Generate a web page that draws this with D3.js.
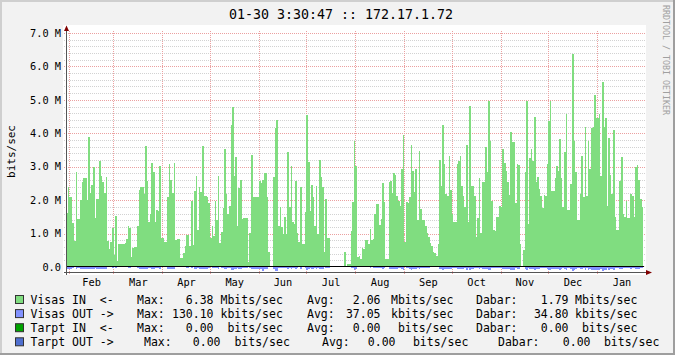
<!DOCTYPE html>
<html>
<head>
<meta charset="utf-8">
<script src="https://cdn.jsdelivr.net/npm/d3@7"></script>
<style>
  html, body { margin: 0; padding: 0; background: #f2f2f2; }
  svg { display: block; font-family: "DejaVu Sans Mono", monospace; }
</style>
</head>
<body>
<div id="chart"></div>
<script>
// daily averages, Visas IN (Mbit/s), one value per day starting 01-30
const visasIn = [
  1.63, 2.4, 2.08, 2.08, 1.33, 0.78, 2.85, 1.45, 1.45, 2.0,
  2.55, 2.65, 2.65, 2.0, 3.88, 2.2, 2.46, 3.0, 1.48, 2.03,
  2.03, 3.18, 2.72, 2.53, 2.2, 2.68, 0.78, 0.53, 0.76, 1.18,
  0.35, 1.53, 0.18, 0.68, 0.7, 0.7, 0.7, 0.73, 0.83, 1.23,
  1.18, 0.3, 0.56, 0.6, 0.6, 1.23, 2.3, 2.4, 2.4, 2.18,
  3.63, 2.58, 1.36, 1.6, 3.1, 2.83, 1.36, 1.7, 1.68, 3.03,
  0.88, 0.88, 0.76, 0.76, 2.08, 3.08, 2.6, 2.2, 3.1, 0.8,
  0.83, 0.84, 0.26, 0.26, 0.43, 0.63, 0.96, 0.96, 0.63, 1.96,
  0.66, 2.28, 2.73, 1.1, 2.38, 2.25, 3.62, 2.13, 2.13, 2.08,
  1.9, 0.88, 1.23, 0.93, 1.98, 1.4, 2.73, 0.73, 1.05, 1.75,
  3.52, 2.18, 1.58, 1.81, 4.25, 4.78, 2.71, 3.28, 1.23, 2.35,
  2.61, 1.43, 1.48, 1.48, 1.48, 0.16, 1.03, 3.36, 2.1, 2.08,
  2.08, 2.08, 2.58, 2.5, 2.6, 2.8, 2.8, 2.08, 0.46, 0,
  0, 2.68, 4.15, 4.4, 1.23, 1.8, 1.2, 0.98, 1.5, 0.98,
  3.45, 1.8, 3.03, 1.36, 1.28, 2.58, 1.03, 0.76, 2.38, 0.7,
  0.7, 1.65, 4.56, 3.13, 1.68, 2.45, 2.1, 1.23, 2.43, 1.0,
  3.21, 2.68, 2.38, 0.46, 2.03, 0.86, 0.86, 0, 0, 0,
  0, 0, 0.03, 0, 0, 0, 0.46, 0, 0.08, 0.08,
  1.08, 1.95, 3.78, 3.03, 0.3, 0.33, 0.23, 0.58, 0.55, 0.8,
  0.8, 0.68, 1.13, 0.8, 0.83, 1.6, 1.88, 1.88, 1.26, 1.43,
  2.5, 1.95, 0.23, 0.23, 2.55, 2.58, 2.21, 2.81, 2.76, 2.13,
  1.96, 1.81, 2.93, 3.96, 0.76, 1.93, 1.91, 2.1, 3.66, 2.86,
  2.23, 2.93, 1.41, 3.46, 1.73, 1.41, 1.4, 1.23, 1.03, 0.9,
  0.73, 0.63, 0.46, 0.43, 0.33, 0.68, 3.2, 2.43, 4.26, 3.08,
  2.18, 2.13, 3.33, 2.31, 1.6, 1.36, 1.36, 3.08, 3.18, 3.33,
  2.41, 2.13, 1.8, 3.66, 1.36, 4.83, 2.43, 2.43, 2.11, 0.9,
  1.48, 2.65, 1.01, 2.53, 2.53, 3.58, 2.85, 4.98, 3.78, 1.98,
  1.1, 1.08, 1.51, 1.51, 1.83, 1.8, 3.53, 3.1, 2.88, 2.53,
  2.16, 4.03, 3.73, 3.73, 1.9, 3.08, 3.06, 0.68, 0.03, 0.5,
  2.83, 4.98, 1.28, 3.25, 3.53, 3.18, 4.5, 2.55, 2.68, 2.33,
  2.13, 1.75, 2.15, 2.13, 3.08, 4.38, 4.98, 2.28, 2.28, 2.65,
  3.03, 2.88, 3.83, 2.65, 1.8, 3.45, 4.58, 1.71, 1.71, 2.48,
  6.38, 3.78, 2.85, 1.41, 1.41, 2.18, 3.33, 2.08, 4.2, 2.13,
  3.78, 2.93, 4.15, 4.2, 5.15, 4.46, 4.46, 4.58, 2.71, 5.52,
  4.2, 4.46, 1.81, 3.85, 2.76, 2.18, 4.11, 1.5, 1.1, 1.1,
  2.58, 3.3, 1.58, 1.5, 1.98, 1.48, 1.48, 2.18, 2.11, 1.51,
  3.0, 3.06, 2.61, 2.03, 1.78
];

// Visas OUT (kbit/s), drawn below zero
const visasOut = [
  48, 55, 52, 50, 30, 12, 58, 35, 33, 50,
  55, 57, 56, 48, 70, 52, 54, 62, 34, 49,
  47, 66, 58, 55, 50, 60, 10, 6, 8, 20,
  5, 28, 3, 8, 9, 9, 10, 9, 12, 22,
  20, 4, 7, 8, 8, 24, 52, 55, 54, 50,
  72, 56, 28, 36, 64, 58, 30, 38, 36, 62,
  14, 14, 12, 12, 48, 64, 56, 50, 66, 13,
  14, 14, 4, 4, 6, 10, 18, 18, 10, 44,
  11, 50, 58, 22, 52, 50, 74, 48, 47, 46,
  42, 15, 24, 17, 45, 30, 58, 12, 20, 40,
  72, 48, 35, 40, 88, 96, 58, 68, 24, 52,
  56, 30, 32, 32, 32, 3, 20, 70, 46, 46,
  46, 46, 56, 56, 130.1, 60, 60, 46, 8, 0,
  0, 58, 118, 124, 24, 40, 24, 19, 33, 19,
  72, 40, 64, 29, 27, 56, 20, 12, 52, 11,
  11, 36, 94, 66, 36, 53, 46, 24, 53, 19,
  67, 57, 52, 8, 45, 16, 16, 0, 0, 0,
  0, 0, 1, 0, 0, 0, 8, 0, 2, 2,
  21, 43, 78, 64, 5, 6, 4, 10, 10, 15,
  15, 12, 22, 15, 16, 35, 41, 41, 26, 30,
  54, 43, 4, 4, 55, 56, 48, 60, 59, 46,
  43, 40, 62, 82, 13, 42, 41, 46, 76, 60,
  48, 62, 30, 72, 38, 30, 30, 26, 21, 17,
  13, 11, 8, 8, 6, 12, 67, 52, 88, 64,
  47, 46, 69, 50, 34, 29, 29, 64, 66, 69,
  52, 46, 38, 76, 29, 100, 52, 52, 45, 18,
  31, 56, 21, 54, 54, 74, 60, 102, 78, 42,
  23, 22, 32, 32, 39, 38, 73, 64, 60, 53,
  46, 83, 77, 77, 40, 64, 63, 13, 1, 9,
  59, 102, 27, 67, 73, 66, 93, 54, 56, 49,
  45, 37, 45, 45, 64, 90, 102, 48, 48, 55,
  63, 60, 79, 55, 38, 71, 94, 36, 36, 52,
  128, 78, 59, 30, 30, 46, 69, 44, 86, 45,
  78, 61, 85, 86, 105, 92, 92, 94, 56, 112,
  86, 92, 38, 79, 57, 46, 84, 32, 23, 23,
  54, 68, 33, 32, 42, 31, 31, 46, 44, 32,
  62, 63, 54, 43, 34.8
];

const yTicks = [0, 1, 2, 3, 4, 5, 6, 7];
const yTickLabels = ["0.0", "1.0 M", "2.0 M", "3.0 M", "4.0 M", "5.0 M", "6.0 M", "7.0 M"];
const monthLabels = ["Feb", "Mar", "Apr", "May", "Jun", "Jul", "Aug", "Sep", "Oct", "Nov", "Dec", "Jan"];

const legendNames = ["Visas IN  <-", "Visas OUT ->", "Tarpt IN  <-", "Tarpt OUT ->"];
const legendColors = ["#80dd80", "#8292ff", "#00a300", "#4f6fcf"];
const maxValues = ["6.38", "130.10", "0.00", "0.00"];
const maxUnits = ["Mbits/sec", "kbits/sec", " bits/sec", " bits/sec"];
const avgValues = ["2.06", "37.05", "0.00", "0.00"];
const avgUnits = ["Mbits/sec", "kbits/sec", " bits/sec", " bits/sec"];
const curValues = ["1.79", "34.80", "0.00", "0.00"];
const curUnits = ["Mbits/sec", "kbits/sec", " bits/sec", " bits/sec"];

const title = "01-30 3:30:47 :: 172.17.1.72";

const W = 675, H = 355;
const start = new Date(Date.UTC(2010, 0, 30, 3, 30, 47));
const end = d3.utcDay.offset(start, visasIn.length);

const x = d3.scaleUtc().domain([start, end]).range([66.1, 643.1]);
const y = d3.scaleLinear().domain([-0.15, 7]).range([272, 33]);

// keep runs of spaces visible in svg text
const nb = s => s.replace(/ /g, "\u00a0");

const svg = d3.select("#chart").append("svg")
    .attr("width", W)
    .attr("height", H);

// background with the 3d border
svg.append("rect").attr("width", W).attr("height", H).attr("fill", "#f2f2f2");
svg.append("rect").attr("x", 0).attr("y", 0).attr("width", W).attr("height", 2).attr("fill", "#cfcfcf");
svg.append("rect").attr("x", 0).attr("y", 0).attr("width", 2).attr("height", H).attr("fill", "#cfcfcf");
svg.append("rect").attr("x", 0).attr("y", H - 2).attr("width", W).attr("height", 2).attr("fill", "#9e9e9e");
svg.append("rect").attr("x", W - 2).attr("y", 0).attr("width", 2).attr("height", H).attr("fill", "#9e9e9e");

// canvas
svg.append("rect")
    .attr("x", 63).attr("y", 25)
    .attr("width", 646 - 63).attr("height", 275 - 25)
    .attr("fill", "#ffffff");

const grid = svg.append("g").attr("shape-rendering", "crispEdges");

// minor horizontal grid
const minor = d3.range(1, 35).map(i => i * 0.2).filter(v => Math.abs(v - Math.round(v)) > 0.01);
grid.selectAll(".minor").data(minor).join("line")
    .attr("x1", 64).attr("x2", 646)
    .attr("y1", d => Math.round(y(d)) + 0.5).attr("y2", d => Math.round(y(d)) + 0.5)
    .attr("stroke", "#d2d2d2")
    .attr("stroke-dasharray", "1,1");

// major horizontal grid
grid.selectAll(".major").data(yTicks.filter(d => d > 0)).join("line")
    .attr("x1", 64).attr("x2", 646)
    .attr("y1", d => Math.round(y(d)) + 0.5).attr("y2", d => Math.round(y(d)) + 0.5)
    .attr("stroke", "#eba0a0")
    .attr("stroke-dasharray", "1,1");

// month grid
const monthStarts = d3.utcMonth.range(d3.utcMonth.ceil(start), end);
grid.selectAll(".month").data(monthStarts).join("line")
    .attr("x1", d => Math.round(x(d)) + 0.5).attr("x2", d => Math.round(x(d)) + 0.5)
    .attr("y1", 31).attr("y2", 275)
    .attr("stroke", "#eba0a0")
    .attr("stroke-dasharray", "1,1");

// data
const pts = visasIn.map((v, i) => ({ t: d3.utcDay.offset(start, i), v: v, out: visasOut[i] / 1000 }));
pts.push({ t: end, v: visasIn[visasIn.length - 1], out: visasOut[visasOut.length - 1] / 1000 });

const areaIn = d3.area().curve(d3.curveStepAfter)
    .x(d => x(d.t)).y0(y(0)).y1(d => y(d.v));
const areaOut = d3.area().curve(d3.curveStepAfter)
    .x(d => x(d.t)).y0(y(0)).y1(d => y(-d.out));

svg.append("path").datum(pts)
    .attr("d", areaIn)
    .attr("fill", legendColors[0])
    .attr("shape-rendering", "crispEdges");

svg.append("path").datum(pts)
    .attr("d", areaOut)
    .attr("fill", legendColors[1])
    .attr("shape-rendering", "crispEdges");

// zero line, one pixel row just above the zero value
const zy = Math.round(y(0)) - 0.5;
svg.append("line")
    .attr("x1", x(start)).attr("x2", x(end) + 1)
    .attr("y1", zy).attr("y2", zy)
    .attr("stroke", "#000")
    .attr("stroke-width", 1.2);

// axes
const axis = svg.append("g").attr("shape-rendering", "crispEdges");
axis.append("line")
    .attr("x1", 64).attr("x2", 648)
    .attr("y1", 272.5).attr("y2", 272.5)
    .attr("stroke", "#555");
axis.append("line")
    .attr("x1", 66.5).attr("x2", 66.5)
    .attr("y1", 275).attr("y2", 29)
    .attr("stroke", "#555");

svg.append("path")
    .attr("d", "M646,270 L652,272.5 L646,275 Z")
    .attr("fill", "#800000");
svg.append("path")
    .attr("d", "M64,31 L66.5,25.5 L69,31 Z")
    .attr("fill", "#800000");

// y tick labels
svg.append("g").selectAll("text").data(yTicks).join("text")
    .attr("x", 61)
    .attr("y", d => y(d))
    .attr("dy", "0.36em")
    .attr("text-anchor", "end")
    .attr("font-size", "10.3px")
    .attr("fill", "#000")
    .text((d, i) => nb(yTickLabels[i]));

// month labels, centered on each month
svg.append("g").selectAll("text").data(monthStarts.map((m, i) => ({ m, label: monthLabels[i] }))).join("text")
    .attr("x", d => {
        const a = d.m, b = d3.utcMonth.offset(d.m, 1);
        return x(new Date((+a + +b) / 2)) + 0.5;
    })
    .attr("y", 286)
    .attr("text-anchor", "middle")
    .attr("font-size", "10.3px")
    .attr("fill", "#000")
    .text(d => d.label);

// title
svg.append("text")
    .attr("x", 341).attr("y", 18.5)
    .attr("text-anchor", "middle")
    .attr("font-size", "13.3px")
    .attr("fill", "#000")
    .text(nb(title));

// vertical label
svg.append("text")
    .attr("transform", "translate(15,151.5) rotate(-90)")
    .attr("text-anchor", "middle")
    .attr("font-size", "11px")
    .attr("fill", "#000")
    .text("bits/sec");

// watermark
svg.append("text")
    .attr("transform", "translate(663,5) rotate(90)")
    .attr("font-size", "8.3px")
    .attr("fill", "#a0a0a0")
    .text(nb("RRDTOOL / TOBI OETIKER"));

// legend
const rowShift = [[0, 0, 0], [0, 0, 0], [0, 0, 0], [7, 15, 22]];
const legend = svg.append("g")
    .attr("font-size", "11.5px")
    .attr("fill", "#000");

legendNames.forEach((name, i) => {
    const by = 303.5 + i * 14.1;
    const s = rowShift[i];
    const row = legend.append("g");
    row.append("rect")
        .attr("x", 15.5).attr("y", by - 8)
        .attr("width", 8).attr("height", 8)
        .attr("fill", legendColors[i])
        .attr("stroke", "#333")
        .attr("stroke-width", 1);
    const put = (tx, str, anchor) => row.append("text")
        .attr("x", tx).attr("y", by)
        .attr("text-anchor", anchor || "start")
        .text(nb(str));
    put(30.5, name);
    put(137 + s[0], "Max:");
    put(213.5 + s[0], maxValues[i], "end");
    put(220.5 + s[0], maxUnits[i]);
    put(307 + s[1], "Avg:");
    put(380.5 + s[1], avgValues[i], "end");
    put(391 + s[1], avgUnits[i]);
    put(476 + s[2], "Dabar:");
    put(568.5 + s[2], curValues[i], "end");
    put(575 + s[2], curUnits[i]);
});
</script>
</body>
</html>
